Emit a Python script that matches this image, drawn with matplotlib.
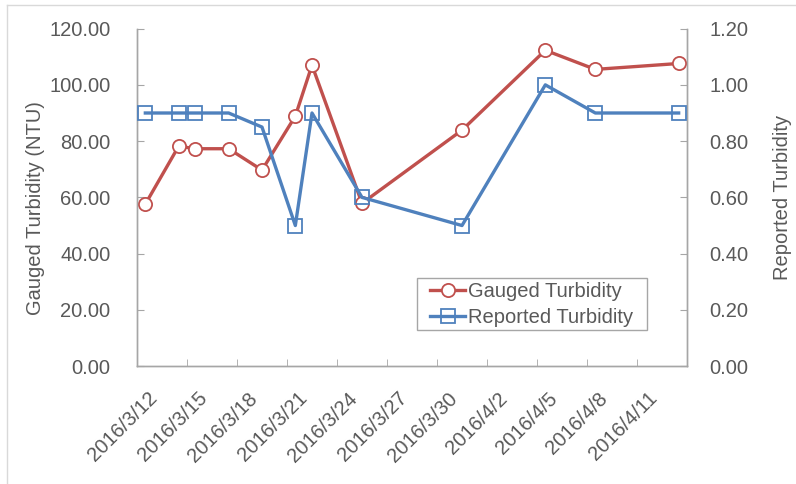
import matplotlib
matplotlib.use("Agg")
import matplotlib.pyplot as plt
import matplotlib.dates as mdates
from matplotlib.lines import Line2D
from matplotlib.patches import Rectangle
from matplotlib.transforms import ScaledTranslation
import datetime as dt

plt.rcParams['font.family'] = ['Liberation Sans', 'DejaVu Sans']

dates = ["2016-03-12", "2016-03-14", "2016-03-15", "2016-03-17", "2016-03-19",
         "2016-03-21", "2016-03-22", "2016-03-25", "2016-03-31", "2016-04-05",
         "2016-04-08", "2016-04-13"]
gauged = [57.6, 78.2, 77.3, 77.3, 69.7, 88.9, 107.0, 57.9, 83.9, 112.3, 105.5, 107.6]
reported = [0.90, 0.90, 0.90, 0.90, 0.85, 0.50, 0.90, 0.60, 0.50, 1.00, 0.90, 0.90]
tick_dates = ["2016-03-12", "2016-03-15", "2016-03-18", "2016-03-21", "2016-03-24",
              "2016-03-27", "2016-03-30", "2016-04-02", "2016-04-05", "2016-04-08",
              "2016-04-11"]
tick_labels = ["2016/3/12", "2016/3/15", "2016/3/18", "2016/3/21", "2016/3/24",
               "2016/3/27", "2016/3/30", "2016/4/2", "2016/4/5", "2016/4/8",
               "2016/4/11"]

RED = "#C0504D"
BLUE = "#4F81BD"
TXT = "#595959"
AX = "#A6A6A6"
FS = 14.5

x = mdates.date2num([dt.datetime.fromisoformat(d) for d in dates])
xt = mdates.date2num([dt.datetime.fromisoformat(d) for d in tick_dates])

W, H = 796, 484
fig = plt.figure(figsize=(W/100, H/100), dpi=100)
ax = fig.add_axes([137/W, 1-366.2/H, 550/W, 337.6/H])
ax2 = ax.twinx()

ax.plot(x, gauged, color=RED, lw=2.4, marker='o', ms=9.5, mfc='white',
        mec=RED, mew=1.3, label='Gauged Turbidity', zorder=3)
ax2.plot(x, reported, color=BLUE, lw=2.4, marker='s', ms=9.5, mfc='none',
         mec=BLUE, mew=1.3, label='Reported Turbidity', zorder=3)

x0 = x[0] - 0.5
x1 = x[-1] + 0.5
ax.set_xlim(x0, x1)
ax.set_ylim(0, 120)
ax2.set_ylim(0, 1.2)
ax.set_yticks([0, 20, 40, 60, 80, 100, 120])
ax.set_yticklabels([f"{v:.2f}" for v in [0, 20, 40, 60, 80, 100, 120]])
ax2.set_yticks([0, 0.2, 0.4, 0.6, 0.8, 1.0, 1.2])
ax2.set_yticklabels([f"{v:.2f}" for v in [0, 0.2, 0.4, 0.6, 0.8, 1.0, 1.2]])

ax.set_xticks(xt)
ax.set_xticklabels(tick_labels, rotation=45, ha='right', va='center',
                   rotation_mode='anchor')
ax.set_xticks([x0 + 3*k for k in range(12)], minor=True)
ax.tick_params(axis='x', which='major', length=0, pad=21, labelsize=FS, labelcolor=TXT)
ax.tick_params(axis='x', which='minor', direction='in', length=5, color=AX)
ax.tick_params(axis='y', direction='in', length=5, color=AX, pad=19, labelsize=FS, labelcolor=TXT)
ax2.tick_params(axis='y', direction='in', length=5, color=AX, pad=16, labelsize=FS, labelcolor=TXT)
off = ScaledTranslation(0.09, 0, fig.dpi_scale_trans)
for lab in ax.get_xticklabels():
    lab.set_transform(lab.get_transform() + off)

for a in (ax, ax2):
    a.spines['top'].set_visible(False)
    for s in ('left', 'right', 'bottom'):
        a.spines[s].set_color(AX)
        a.spines[s].set_linewidth(1.0)

ax.set_ylabel("Gauged Turbidity (NTU)", fontsize=FS, color=TXT)
ax.yaxis.set_label_coords((45-137)/550, (366.2-208)/337.6)
ax2.set_ylabel("Reported Turbidity", fontsize=FS, color=TXT, labelpad=18)

h1, l1 = ax.get_legend_handles_labels()
h2, l2 = ax2.get_legend_handles_labels()
leg = ax2.legend(h1 + h2, l1 + l2, loc='upper left',
                 bbox_to_anchor=((426-137)/550, (366.2-278)/337.6),
                 fontsize=FS, frameon=False, handlelength=1.75,
                 borderpad=0.2, labelspacing=0.35, handletextpad=0.15,
                 borderaxespad=0)
for t in leg.get_texts():
    t.set_color(TXT)
fig.add_artist(Rectangle((417/W, 1-330/H), 230/W, 52/H, transform=fig.transFigure,
                         fill=False, edgecolor=AX, lw=1.0, zorder=5))

# faint outer chart border
fig.add_artist(Line2D([7/W, 1], [1-5/H, 1-5/H], color="#D9D9D9", lw=1.0,
                      transform=fig.transFigure))
fig.add_artist(Line2D([7/W, 7/W], [0, 1-5/H], color="#D9D9D9", lw=1.0,
                      transform=fig.transFigure))

fig.savefig("out.png", dpi=100)
